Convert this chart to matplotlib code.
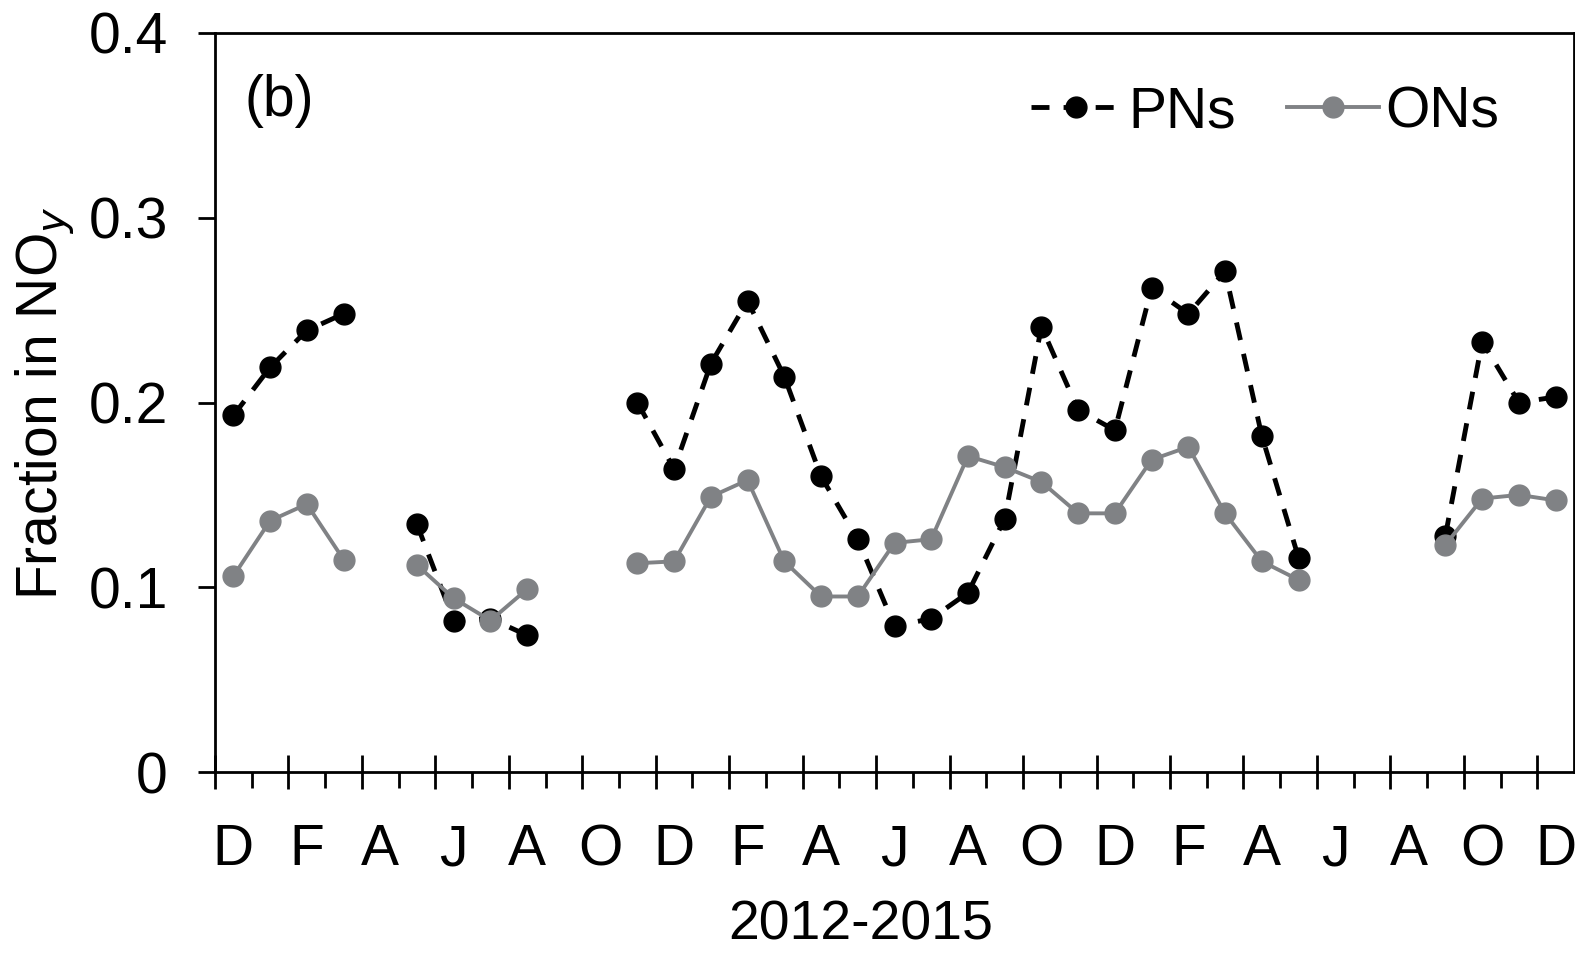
import numpy as np
import matplotlib
matplotlib.use("Agg")
import matplotlib.pyplot as plt

nan = np.nan

# Monthly values, Dec 2012 - Dec 2015 (37 months)
month_letters = ["D", "J", "F", "M", "A", "M", "J", "J", "A", "S", "O", "N"] * 3 + ["D"]

pns = [0.193, 0.219, 0.239, 0.248, nan, 0.134, 0.082, 0.083, 0.074, nan, nan,
       0.200, 0.164, 0.221, 0.255, 0.214, 0.160, 0.126, 0.079, 0.083, 0.097,
       0.137, 0.241, 0.196, 0.185, 0.262, 0.248, 0.271, 0.182, 0.116,
       nan, nan, nan, 0.128, 0.233, 0.200, 0.203]

ons = [0.106, 0.136, 0.145, 0.115, nan, 0.112, 0.094, 0.082, 0.099, nan, nan,
       0.113, 0.114, 0.149, 0.158, 0.114, 0.095, 0.095, 0.124, 0.126, 0.171,
       0.165, 0.157, 0.140, 0.140, 0.169, 0.176, 0.140, 0.114, 0.104,
       nan, nan, nan, 0.123, 0.148, 0.150, 0.147]

y_ticks = [0, 0.1, 0.2, 0.3, 0.4]
y_labels = ["0", "0.1", "0.2", "0.3", "0.4"]

plt.rcParams['font.family'] = ['Liberation Sans', 'DejaVu Sans']
fs = 41

n = len(pns)
x = np.arange(n) + 0.5

fig = plt.figure(figsize=(15.75, 9.57), dpi=100)
ax = fig.add_axes([215 / 1575, 1 - 772 / 957, (1574 - 215) / 1575, (772 - 33) / 957])

gray = '#808285'
ax.plot(x, pns, color='black', linewidth=3.5, linestyle=(0, (3.7, 2.9)),
        marker='o', markersize=15, label='PNs', zorder=3)
ax.plot(x, ons, color=gray, linewidth=2.8, linestyle='-',
        marker='o', markersize=15, label='ONs', zorder=4)

ax.set_xlim(0, n)
ax.set_ylim(0, 0.4)

# y axis
ax.set_yticks(y_ticks)
ax.set_yticklabels(y_labels)
ax.tick_params(axis='y', direction='out', length=12, width=2, labelsize=fs, pad=22)

# x axis: long ticks every 2 months, short ones in between
ax.set_xticks(np.arange(0, n + 1, 2))
ax.set_xticklabels([])
ax.set_xticks(np.arange(1, n, 2), minor=True)
ax.tick_params(axis='x', which='major', direction='inout', length=25, width=2)
ax.tick_params(axis='x', which='minor', direction='out', length=11.5, width=2)

sec = ax.secondary_xaxis('bottom')
sec.set_xticks(x[::2])
sec.set_xticklabels(month_letters[::2])
sec.tick_params(length=0, labelsize=fs, pad=37)
sec.spines['bottom'].set_visible(False)

for s in ax.spines.values():
    s.set_linewidth(2)

ax.set_ylabel('Fraction in NO$_y$', fontsize=fs, labelpad=9)
ax.set_xlabel('2012-2015', fontsize=40)
ax.xaxis.set_label_coords(0.475, -0.172)

ax.text(0.022, 0.945, '(b)', transform=ax.transAxes, fontsize=fs, va='top', ha='left')

ax.legend(loc='center right', bbox_to_anchor=(0.945, 0.893), ncol=2, frameon=False,
          fontsize=fs, handlelength=1.6, handletextpad=0.12, columnspacing=0.9,
          borderpad=0, borderaxespad=0)

fig.savefig('out.png', dpi=100)
